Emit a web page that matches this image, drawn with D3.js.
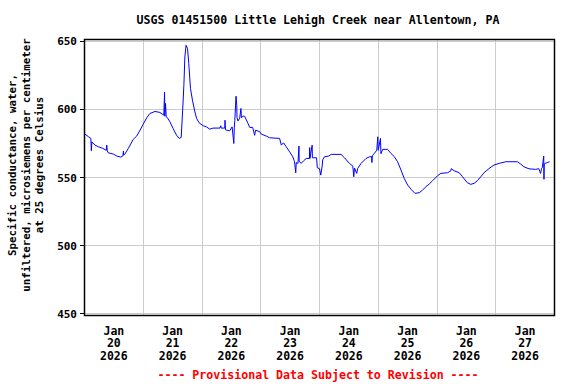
<!DOCTYPE html>
<html>
<head>
<meta charset="utf-8">
<script src="https://cdn.jsdelivr.net/npm/d3@7"></script>
<style>
  html, body { margin: 0; padding: 0; background: #ffffff; }
  svg { display: block; }
  text { font-family: "DejaVu Sans Mono", "Liberation Mono", monospace; font-weight: bold; fill: #000; }
</style>
</head>
<body>
<script>
// ---- data (hours since 2026-01-20 00:00, specific conductance uS/cm) ----
const hours = [0.1,1.6,2.6,2.8,3.0,4.3,5.7,7.5,8.9,9.1,9.3,9.7,11.8,13.2,14.8,15.7,15.9,16.0,16.5,17.9,
  19.9,21.3,22.7,24.0,25.4,26.7,28.8,30.8,32.4,32.7,32.8,33.1,33.4,33.8,34.9,36.2,37.6,38.7,39.5,40.1,
  40.6,41.0,41.5,42.1,42.6,43.3,44.1,45.1,45.8,46.8,48.5,49.8,51.2,52.5,55.3,55.7,55.8,57.3,57.4,57.6,
  58.0,59.3,60.3,61.0,61.2,61.4,61.9,62.2,62.3,62.7,63.4,63.9,64.1,64.8,65.4,66.8,67.5,68.7,69.5,69.9,
  71.6,72.2,74.3,75.6,79.7,80.4,81.3,82.4,83.8,85.1,85.8,86.3,86.5,87.2,87.6,87.7,88.5,89.5,90.6,91.9,
  92.0,92.1,93.0,93.1,94.8,95.1,96.0,96.5,97.1,97.3,98.0,99.8,100.8,104.8,106.2,108.2,109.6,110.0,110.3,111.2,
  111.6,113.0,115.0,116.4,117.3,117.4,117.6,118.4,119.4,119.8,120.0,120.9,121.1,121.8,123.8,125.2,126.6,127.9,129.3,130.6,
  132.0,133.4,135.0,136.8,138.1,139.5,140.8,142.2,144.2,145.6,148.3,149.7,149.8,151.0,153.1,154.4,156.4,157.8,159.2,160.5,
  161.9,163.2,165.3,167.3,169.4,172.1,176.8,178.2,179.5,181.6,184.3,185.6,186.3,186.7,187.0,187.6,187.7,187.8,188.4,189.0,190.0];
const values = [582,580,578.7,569.6,576.2,573.8,572.6,571.4,570,573.8,569.5,568.2,567.2,565.8,565,566,569.5,566.5,567.2,571.4,
  578,580.4,584.8,589.2,593.8,597,598.5,597.8,595.8,612.6,595,604.4,594.5,594.1,590.9,586,581.1,578.7,579.5,599.5,
  617.8,638.5,647.1,644.6,633.7,615.3,606.8,598.2,593.4,590.2,588,587.2,585.5,586.3,586.3,588,586.3,586.3,592.1,585,
  584.8,584.3,587.2,575,587,592,609.7,603,594,591.5,593.5,600.7,594,595,595,589.7,586.8,586.8,581,584.8,
  583.6,581.9,580.4,579.2,578.7,573.8,575.5,572.6,568.9,565.2,561.6,553.5,561,560.4,573.1,562,560.4,562.3,564,564,
  572,564,573.8,564.5,564.5,557.2,556.5,551.8,558.5,563,565.2,565.8,567,567,564.5,560.4,558.4,550.6,557,553,
  556.7,560.4,564,565.2,565.5,561,566,567.7,570.1,579.9,570,578.7,567.5,570.7,570.7,567.7,565.2,561.6,555.5,549.4,
  544.5,541.4,538.4,538.9,540.8,543.3,545.2,547.7,551.3,553.1,553.5,555,556.5,555,553.5,550.6,546.2,545,545.8,547.7,
  550.6,553.5,556.7,559.2,560.4,561.6,561.6,559.9,557.9,556.4,556,556.5,553,556.5,557.2,565.8,548.7,560,560.5,560.9,561.6];
const yTicks = [450, 500, 550, 600, 650];
const dayLabels = ["20", "21", "22", "23", "24", "25", "26", "27"];
const monthLabel = "Jan";
const yearLabel = "2026";
const title = "USGS 01451500 Little Lehigh Creek near Allentown, PA";
const yTitle = ["Specific conductance, water,", "unfiltered, microsiemens per centimeter", "at 25 degrees Celsius"];
const footer = "---- Provisional Data Subject to Revision ----";

// ---- layout ----
const W = 576, H = 384;
const frame = { left: 84.5, right: 554.5, top: 39.5, bottom: 315.5 };
const t0 = new Date(2026, 0, 20, 0, 0, 0);
const t1 = new Date(2026, 0, 28, 0, 0, 0);
const toDate = h => new Date(t0.getTime() + h * 3600e3);

const svg = d3.select("body").append("svg").attr("width", W).attr("height", H);

const x = d3.scaleTime().domain([t0, t1]).range([frame.left, frame.right]);
const y = d3.scaleLinear().domain([450, 650]).range([313.8, 41.3]);

// gridlines
const g = svg.append("g").attr("shape-rendering", "crispEdges");
const days = d3.timeDay.range(t0, t1).slice(1);
g.selectAll("line.vx").data(days).enter().append("line")
  .attr("x1", d => x(d)).attr("x2", d => x(d))
  .attr("y1", frame.top).attr("y2", frame.bottom)
  .attr("stroke", "#cccccc").attr("stroke-width", 1);
g.selectAll("line.hy").data(yTicks).enter().append("line")
  .attr("x1", frame.left).attr("x2", frame.right)
  .attr("y1", d => y(d)).attr("y2", d => y(d))
  .attr("stroke", "#cccccc").attr("stroke-width", 1);

// data line
const pts = hours.map((h, i) => ({ t: toDate(h), v: values[i] }));
svg.append("path").datum(pts)
  .attr("fill", "none").attr("stroke", "#0000ff").attr("stroke-width", 1)
  .attr("d", d3.line().x(d => x(d.t)).y(d => y(d.v)));

// frame
svg.append("rect")
  .attr("x", frame.left).attr("y", frame.top)
  .attr("width", frame.right - frame.left).attr("height", frame.bottom - frame.top)
  .attr("fill", "none").attr("stroke", "#000").attr("stroke-width", 1.5);

// y axis ticks and labels
const ya = svg.append("g");
ya.selectAll("line").data(yTicks).enter().append("line")
  .attr("x1", frame.left - 5).attr("x2", frame.left)
  .attr("y1", d => y(d)).attr("y2", d => y(d))
  .attr("stroke", "#000").attr("stroke-width", 1).attr("shape-rendering", "crispEdges");
ya.selectAll("text").data(yTicks).enter().append("text")
  .attr("x", 77).attr("y", d => y(d) + 4)
  .attr("text-anchor", "end").attr("font-size", "11px")
  .text(d => d);

// x labels (noon of each day)
const noons = days.concat([]).map(d => d); // placeholder
const labelDates = dayLabels.map((s, i) => new Date(2026, 0, 20 + i, 12));
const xa = svg.append("g");
labelDates.forEach((d, i) => {
  const t = xa.append("text").attr("text-anchor", "middle").attr("font-size", "11.5px")
    .attr("x", x(d));
  t.append("tspan").attr("x", x(d)).attr("y", 334.5).text(monthLabel);
  t.append("tspan").attr("x", x(d)).attr("y", 347.2).text(dayLabels[i]);
  t.append("tspan").attr("x", x(d)).attr("y", 360).text(yearLabel);
});

// title
svg.append("text").attr("x", 318).attr("y", 24).attr("text-anchor", "middle")
  .attr("font-size", "11.6px").text(title);

// y title
const yt = svg.append("text").attr("text-anchor", "middle").attr("font-size", "10.8px")
  .attr("transform", "translate(0,165) rotate(-90)");
[16, 30, 43].forEach((bx, i) => {
  yt.append("tspan").attr("x", 0).attr("y", bx).text(yTitle[i]);
});

// footer
svg.append("text").attr("x", 318).attr("y", 378.5).attr("text-anchor", "middle")
  .attr("font-size", "11.6px").style("fill", "#ff0000").text(footer);
</script>
</body>
</html>
